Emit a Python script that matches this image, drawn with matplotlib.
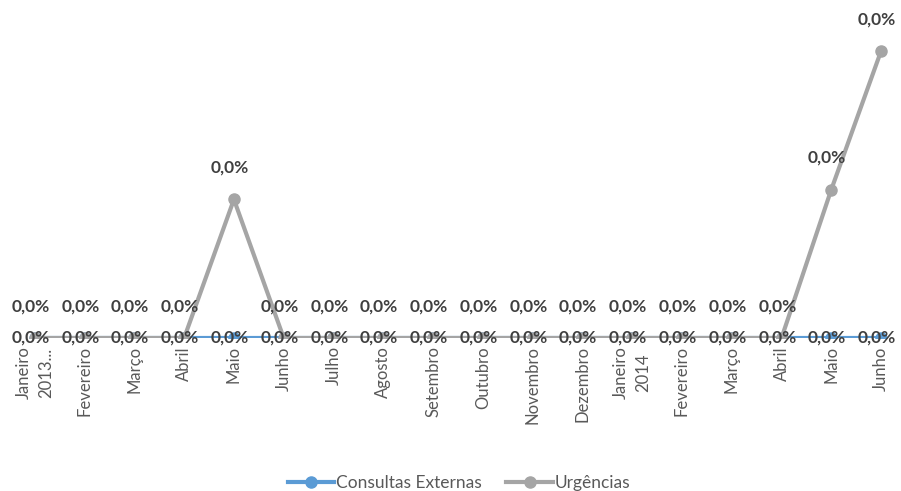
import matplotlib
matplotlib.use('Agg')
import matplotlib.pyplot as plt
import numpy as np

months = ['Janeiro\n2013...', 'Fevereiro', 'Março', 'Abril', 'Maio', 'Junho', 'Julho', 'Agosto',
          'Setembro', 'Outubro', 'Novembro', 'Dezembro', 'Janeiro\n2014', 'Fevereiro', 'Março',
          'Abril', 'Maio', 'Junho']
consultas = [0, 0, 0, 0, 0, 0, 0, 0, 0, 0, 0, 0, 0, 0, 0, 0, 0, 0]
urgencias = [0, 0, 0, 0, 0.00014, 0, 0, 0, 0, 0, 0, 0, 0, 0, 0, 0, 0.00015, 0.00029]

plt.rcParams['font.family'] = ['Lato', 'DejaVu Sans']

fig = plt.figure(figsize=(9.01, 4.91), dpi=100)
ax = fig.add_axes([0.011, (491 - 338) / 491, 0.989, (338 - 20) / 491])

x = np.arange(len(months))
blue = '#5b9bd5'
gray = '#a5a5a5'
ax.plot(x, consultas, color=blue, lw=3, marker='o', ms=8, label='Consultas Externas', zorder=2)
ax.plot(x, urgencias, color=gray, lw=3, marker='o', ms=8, label='Urgências', zorder=3)

for xi, v in zip(x, consultas):
    ax.annotate('0,0%', (xi, v), xytext=(-3, 0), textcoords='offset points', ha='center',
                va='center', fontsize=12.5, fontweight='bold', color='#404040', zorder=5,
                annotation_clip=False)
for xi, v in zip(x, urgencias):
    ax.annotate('0,0%', (xi, v), xytext=(-3, 23), textcoords='offset points', ha='center',
                va='center', fontsize=12.5, fontweight='bold', color='#404040', zorder=5,
                annotation_clip=False)

ax.set_xlim(-0.5, 17.4)
ax.set_ylim(0, 0.00029 * 318 / 287)
ax.set_xticks(x)
ax.set_xticklabels(months, rotation=90, fontsize=12, color='#595959', linespacing=1.45)
ax.tick_params(axis='x', length=0, pad=6)
ax.set_yticks([])
for s in ax.spines.values():
    s.set_visible(False)

ax.legend(loc='lower center', bbox_to_anchor=(0.504, -0.53), ncol=2, frameon=False,
          fontsize=12.5, labelcolor='#595959', handlelength=2.7, columnspacing=1.4,
          handletextpad=0.1)

fig.savefig('out.png', dpi=100)
